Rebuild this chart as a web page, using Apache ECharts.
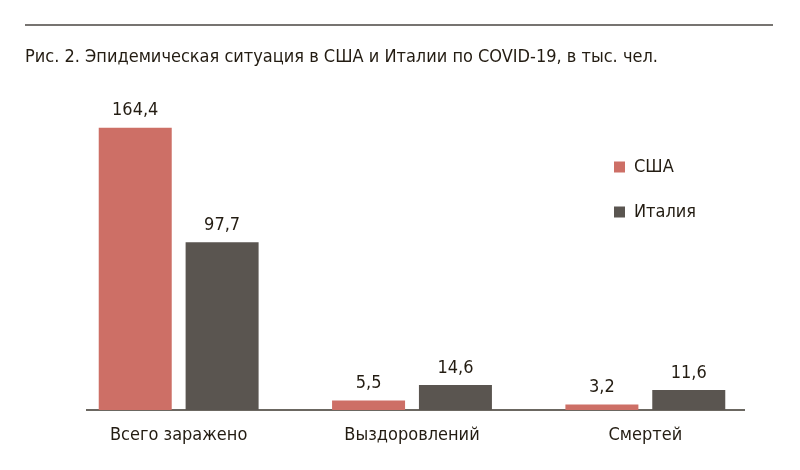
<!DOCTYPE html>
<html><head><meta charset="utf-8">
<script src="https://cdn.jsdelivr.net/npm/echarts@6/dist/echarts.min.js"></script>
<style>html,body{margin:0;padding:0;background:#fff}#c{width:800px;height:470px}</style>
</head><body><div id="c"></div>
<script>
const categories = ['Всего заражено', 'Выздоровлений', 'Смертей'];
const usa = [164.4, 5.5, 3.2];
const italy = [97.7, 14.6, 11.6];
const seriesNames = ['США', 'Италия'];
const titleText = 'Рис. 2. Эпидемическая ситуация в США и Италии по COVID-19, в тыс. чел.';

const FONT = '"DejaVu Sans Condensed", "Liberation Sans", sans-serif';
const TXT = '#231c12';
const chart = echarts.init(document.getElementById('c'), null, {renderer: 'canvas'});
const fmt = p => String(p.value).replace('.', ',');
chart.setOption({
  animation: false,
  title: {text: titleText, left: 25, top: 48, padding: 0, textStyle: {fontFamily: FONT, fontSize: 18, fontWeight: 'normal', color: TXT}},
  legend: {orient: 'vertical', left: 609, top: 153, itemWidth: 11, itemHeight: 11, itemGap: 27, icon: 'rect',
    textStyle: {fontFamily: FONT, fontSize: 18, color: TXT, padding: [0,0,0,4]}},
  graphic: [
    {type: 'line', shape: {x1: 25, y1: 25, x2: 773, y2: 25}, style: {stroke: '#4a4642', lineWidth: 1.5}},
    {type: 'line', shape: {x1: 86, y1: 410, x2: 745, y2: 410}, style: {stroke: '#3a342c', lineWidth: 1.5}}
  ],
  grid: {left: 62, right: 38, top: 101, bottom: 60},
  xAxis: {type: 'category', data: categories, axisLine: {show: false}, axisTick: {show: false},
    axisLabel: {fontFamily: FONT, fontSize: 18, color: TXT, margin: 16}},
  yAxis: {type: 'value', min: 0, max: 180, show: false, splitLine: {show: false}},
  series: [
    {name: seriesNames[0], type: 'bar', data: usa, barWidth: 73, barGap: '19%', itemStyle: {color: '#cd6f66'},
      label: {show: true, position: 'top', distance: 8, formatter: fmt, fontFamily: FONT, fontSize: 18, color: TXT}},
    {name: seriesNames[1], type: 'bar', data: italy, barWidth: 73, itemStyle: {color: '#5a5550'},
      label: {show: true, position: 'top', distance: 8, formatter: fmt, fontFamily: FONT, fontSize: 18, color: TXT}}
  ]
});
</script></body></html>
